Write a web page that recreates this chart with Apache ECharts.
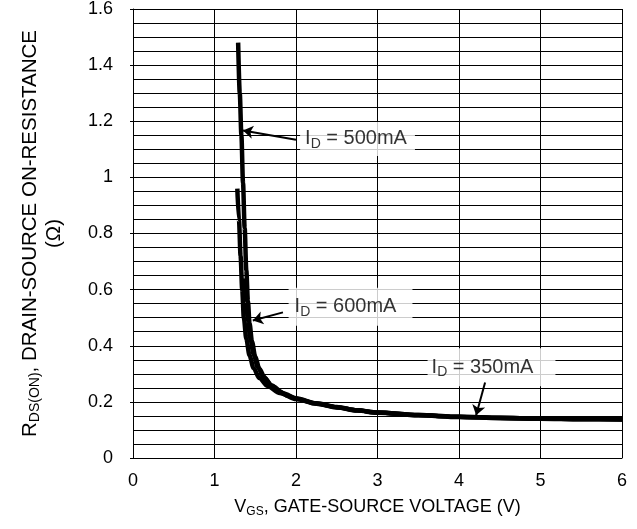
<!DOCTYPE html>
<html>
<head>
<meta charset="utf-8">
<script src="https://cdn.jsdelivr.net/npm/echarts@6/dist/echarts.min.js"></script>
<style>html,body{margin:0;padding:0;background:#fff}#c{width:637px;height:529px}</style>
</head>
<body>
<div id="c"></div>
<script>
// Curves: V_GS (V) and R_DS(on) (ohm)
const vgs500 = [1.29, 1.31, 1.33, 1.35, 1.37, 1.39, 1.41, 1.43, 1.46, 1.50, 1.55, 1.62, 1.70, 1.80, 1.90, 2.00, 2.25, 2.50, 2.75, 3.00, 3.50, 4.00, 4.50, 5.00, 5.50, 6.00];
const r500   = [1.48, 1.30, 1.15, 0.98, 0.82, 0.67, 0.56, 0.48, 0.415, 0.36, 0.318, 0.283, 0.258, 0.237, 0.222, 0.211, 0.194, 0.181, 0.170, 0.162, 0.153, 0.147, 0.143, 0.141, 0.139, 0.138];
const vgs600 = [1.28, 1.30, 1.32, 1.34, 1.36, 1.39, 1.43, 1.48, 1.55, 1.65, 1.80, 2.00, 2.25, 2.50, 2.75, 3.00, 3.50, 4.00, 4.50, 5.00, 5.50, 6.00];
const r600   = [0.96, 0.85, 0.72, 0.60, 0.50, 0.425, 0.365, 0.32, 0.285, 0.257, 0.232, 0.210, 0.193, 0.180, 0.169, 0.161, 0.152, 0.146, 0.142, 0.140, 0.138, 0.137];
const vgs350 = [1.37, 1.39, 1.41, 1.44, 1.48, 1.53, 1.60, 1.70, 1.85, 2.00, 2.25, 2.50, 2.75, 3.00, 3.50, 4.00, 4.50, 5.00, 5.50, 6.00];
const r350   = [0.64, 0.56, 0.49, 0.425, 0.37, 0.325, 0.29, 0.258, 0.23, 0.213, 0.195, 0.182, 0.170, 0.162, 0.153, 0.147, 0.143, 0.141, 0.139, 0.138];

// Annotations
const annoCurrent = ['500mA', '600mA', '350mA'];
const annoX = [2.755, 2.669, 4.399];
const annoY = [1.137, 0.539, 0.323];
const arrowFrom = [[2.00, 1.134], [1.84, 0.519], [4.32, 0.269]];
const arrowTo   = [[1.35, 1.167], [1.47, 0.490], [4.21, 0.152]];

// Axes
const xMin = 0, xMax = 6, xStep = 1;
const yMin = 0, yMax = 1.6, yStep = 0.2;

const FONT = '"Liberation Sans", Arial, sans-serif';
const pair = (xs, ys) => xs.map((x, i) => [x, ys[i]]);
const annoPadding = [[5, 8, 5, 5], [7, 16, 7, 6], [7, 22, 7, 4]];

const chart = echarts.init(document.getElementById('c'), null, {renderer: 'canvas'});
const curveStyle = {color: '#000', width: 4.5};
const mkCurve = (name, xs, ys) => ({
  name, type: 'line', data: pair(xs, ys), showSymbol: false, symbol: 'none',
  smooth: 0.3, smoothMonotone: 'x', lineStyle: curveStyle, itemStyle: {color: '#000'},
  z: 3, silent: true
});
const subRich = (big, small, lh) => ({
  n: {fontSize: big, fontFamily: FONT, color: '#000', lineHeight: lh},
  s: {fontSize: small, fontFamily: FONT, color: '#000', lineHeight: small, verticalAlign: 'bottom', padding: [Math.round(lh - small - 1), 0, 0, 0]}
});

chart.setOption({
  animation: false,
  backgroundColor: '#fff',
  textStyle: {fontFamily: FONT},
  grid: {left: 133, right: 15, top: 5, bottom: 71, containLabel: false},
  xAxis: {
    type: 'value', min: xMin, max: xMax, interval: xStep,
    axisLine: {show: true, lineStyle: {color: '#000', width: 1}},
    axisTick: {show: false},
    axisLabel: {color: '#000', fontSize: 18, fontFamily: FONT, margin: 14},
    splitLine: {show: true, lineStyle: {color: '#000', width: 1}},
    name: '{n|V}{s|GS}{n|, GATE-SOURCE VOLTAGE (V)}',
    nameLocation: 'middle', nameGap: 38,
    nameTextStyle: {color: '#000', rich: subRich(18, 12, 22)}
  },
  yAxis: {
    type: 'value', min: yMin, max: yMax, interval: yStep,
    axisLine: {show: true, lineStyle: {color: '#000', width: 1}},
    axisTick: {show: true, inside: false, length: 3, lineStyle: {color: '#000'}},
    axisLabel: {color: '#000', fontSize: 18, fontFamily: FONT, margin: 20},
    splitLine: {show: true, lineStyle: {color: '#000', width: 1}},
    minorTick: {show: false, splitNumber: 4},
    minorSplitLine: {show: true, lineStyle: {color: '#000', width: 1}},
    name: '{n|R}{s|DS(ON)}{n|, DRAIN-SOURCE ON-RESISTANCE}\n{n|(Ω)}',
    nameLocation: 'middle', nameGap: 67, nameRotate: 90,
    nameTextStyle: {color: '#000', align: 'center', rich: subRich(20.5, 14, 24)}
  },
  series: [
    mkCurve('500mA', vgs500, r500),
    mkCurve('600mA', vgs600, r600),
    mkCurve('350mA', vgs350, r350),
    {
      type: 'scatter', symbolSize: 0, silent: true, z: 4,
      data: annoCurrent.map((c, i) => ({
        value: [annoX[i], annoY[i]],
        label: {padding: annoPadding[i]}
      })),
      label: {
        show: true, position: 'inside',
        formatter: (p) => '{n|I}{s|D}{n| = ' + annoCurrent[p.dataIndex] + '}',
        backgroundColor: '#fff',
        rich: subRich(20, 14, 24)
      }
    },
    {
      type: 'line', data: [], silent: true, z: 5,
      markLine: {
        silent: true, animation: false,
        symbol: ['none', 'arrow'], symbolSize: 10,
        label: {show: false},
        lineStyle: {color: '#000', width: 2, type: 'solid'},
        emphasis: {disabled: true},
        data: arrowFrom.map((f, i) => [
          {coord: f, symbol: 'none'},
          {coord: arrowTo[i], symbol: 'arrow', symbolSize: 10}
        ])
      }
    }
  ]
});
</script>
</body>
</html>
